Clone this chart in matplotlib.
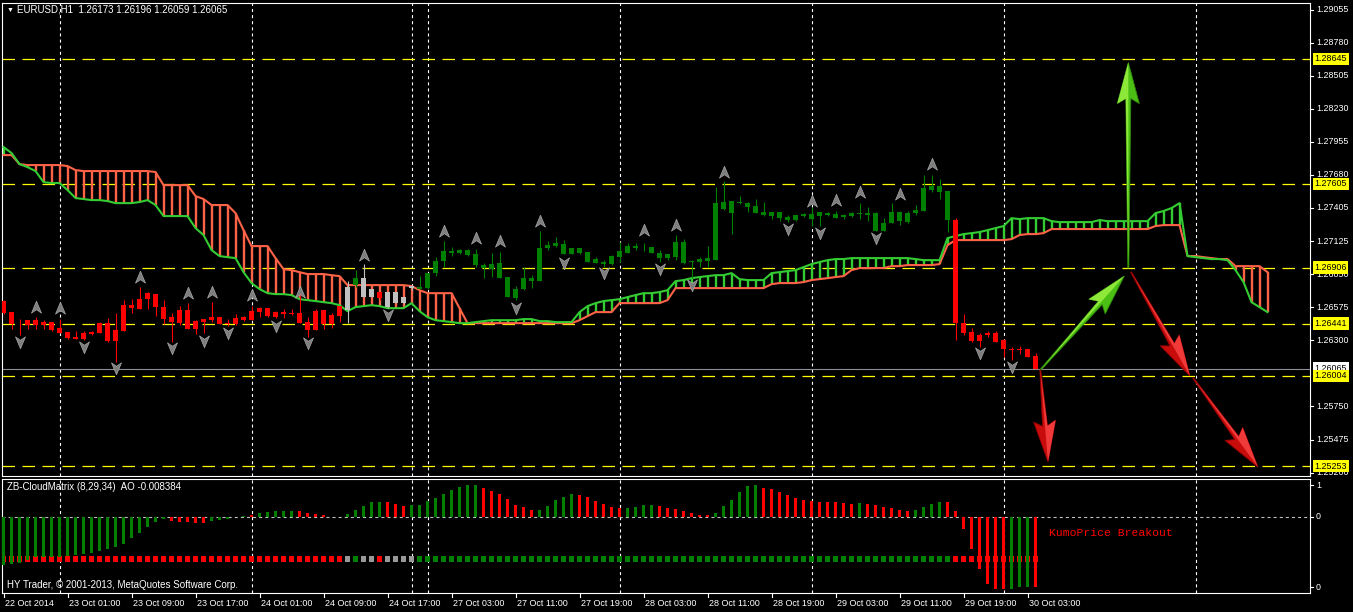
import matplotlib
matplotlib.use("Agg")
import matplotlib.pyplot as plt
import matplotlib.transforms as mtransforms
from matplotlib.path import Path
from matplotlib.patches import Polygon
from matplotlib.lines import Line2D
import numpy as np

plt.rcParams['font.family'] = ['Liberation Sans', 'DejaVu Sans']
plt.rcParams['lines.scale_dashes'] = False

# ---------------- data ----------------
symbol_title = "EURUSD,H1  1.26173 1.26196 1.26059 1.26065"
osc_title = "ZB-CloudMatrix (8,29,34)  AO -0.008384"
copyright_text = "HY Trader, \u00a9 2001-2013, MetaQuotes Software Corp."
signal_text = "KumoPrice Breakout"

time_labels = ["22 Oct 2014", "23 Oct 01:00", "23 Oct 09:00", "23 Oct 17:00",
               "24 Oct 01:00", "24 Oct 09:00", "24 Oct 17:00", "27 Oct 03:00",
               "27 Oct 11:00", "27 Oct 19:00", "28 Oct 03:00", "28 Oct 11:00",
               "28 Oct 19:00", "29 Oct 03:00", "29 Oct 11:00", "29 Oct 19:00",
               "30 Oct 03:00"]
label_every = 8

highs = [1.26636, 1.26536, 1.26475, 1.26467, 1.26492, 1.26469, 1.26453, 1.26475, 1.26369, 1.26375,
         1.26375, 1.26378, 1.26453, 1.26486, 1.26530, 1.26636, 1.26647, 1.26747, 1.26703, 1.26689,
         1.26636, 1.26525, 1.26586, 1.26609, 1.26469, 1.26478, 1.26619, 1.26494, 1.26475, 1.26519,
         1.26503, 1.26589, 1.26580, 1.26572, 1.26544, 1.26561, 1.26559, 1.26705, 1.26497, 1.26559,
         1.26553, 1.26525, 1.26589, 1.26792, 1.26886, 1.26936, 1.26728, 1.26705, 1.26705, 1.26705,
         1.26664, 1.26753, 1.26836, 1.26864, 1.26997, 1.27130, 1.27075, 1.27064, 1.27064, 1.27064,
         1.26947, 1.27025, 1.27039, 1.26830, 1.26755, 1.26909, 1.26844, 1.27214, 1.27128, 1.27164,
         1.27137, 1.27072, 1.27072, 1.27036, 1.26992, 1.26969, 1.27011, 1.27120, 1.27109, 1.27109,
         1.27114, 1.27075, 1.27053, 1.27020, 1.27178, 1.27142, 1.26970, 1.26997, 1.27086, 1.27575,
         1.27630, 1.27461, 1.27503, 1.27455, 1.27475, 1.27455, 1.27372, 1.27372, 1.27344, 1.27342,
         1.27364, 1.27414, 1.27372, 1.27372, 1.27380, 1.27353, 1.27372, 1.27447, 1.27414, 1.27372,
         1.27317, 1.27447, 1.27380, 1.27380, 1.27428, 1.27678, 1.27678, 1.27642, 1.27544, 1.27317,
         1.26519, 1.26400, 1.26364, 1.26375, 1.26378, 1.26309, 1.26247, 1.26253, 1.26233, 1.26196]
opens = [1.26628, 1.26536, 1.26447, 1.26467, 1.26469, 1.26453, 1.26453, 1.26403, 1.26369, 1.26330,
         1.26359, 1.26372, 1.26447, 1.26442, 1.26386, 1.26594, 1.26594, 1.26642, 1.26697, 1.26689,
         1.26580, 1.26497, 1.26553, 1.26553, 1.26461, 1.26478, 1.26494, 1.26494, 1.26445, 1.26486,
         1.26497, 1.26544, 1.26572, 1.26572, 1.26536, 1.26536, 1.26528, 1.26530, 1.26453, 1.26544,
         1.26553, 1.26513, 1.26589, 1.26744, 1.26817, 1.26822, 1.26728, 1.26705, 1.26705, 1.26705,
         1.26664, 1.26753, 1.26747, 1.26864, 1.26964, 1.27044, 1.27044, 1.27050, 1.27050, 1.27017,
         1.26928, 1.26936, 1.26947, 1.26830, 1.26728, 1.26822, 1.26822, 1.27067, 1.27094, 1.27114,
         1.27103, 1.27072, 1.27072, 1.27036, 1.26975, 1.26955, 1.27003, 1.27047, 1.27086, 1.27086,
         1.27072, 1.27075, 1.27030, 1.27017, 1.27122, 1.27122, 1.26961, 1.26975, 1.26984, 1.27447,
         1.27455, 1.27461, 1.27455, 1.27442, 1.27419, 1.27372, 1.27372, 1.27372, 1.27330, 1.27342,
         1.27355, 1.27355, 1.27369, 1.27364, 1.27355, 1.27342, 1.27364, 1.27359, 1.27364, 1.27364,
         1.27280, 1.27372, 1.27372, 1.27359, 1.27386, 1.27567, 1.27586, 1.27586, 1.27544, 1.27303,
         1.26442, 1.26372, 1.26345, 1.26364, 1.26364, 1.26303, 1.26225, 1.26228, 1.26228, 1.26173]
closes = [1.26528, 1.26436, 1.26442, 1.26425, 1.26425, 1.26430, 1.26386, 1.26364, 1.26319, 1.26314,
          1.26311, 1.26353, 1.26364, 1.26294, 1.26294, 1.26380, 1.26572, 1.26561, 1.26642, 1.26580,
          1.26480, 1.26453, 1.26442, 1.26397, 1.26394, 1.26455, 1.26469, 1.26439, 1.26439, 1.26436,
          1.26469, 1.26472, 1.26536, 1.26505, 1.26497, 1.26519, 1.26519, 1.26447, 1.26389, 1.26386,
          1.26439, 1.26439, 1.26505, 1.26553, 1.26761, 1.26664, 1.26664, 1.26650, 1.26580, 1.26614,
          1.26614, 1.26734, 1.26730, 1.26736, 1.26859, 1.26964, 1.27030, 1.27030, 1.27011, 1.26925,
          1.26900, 1.26892, 1.26817, 1.26664, 1.26655, 1.26725, 1.26797, 1.26797, 1.27067, 1.27086,
          1.27017, 1.27020, 1.27030, 1.26955, 1.26947, 1.26933, 1.26933, 1.26997, 1.27030, 1.27072,
          1.27067, 1.27025, 1.26984, 1.26984, 1.26997, 1.26942, 1.26955, 1.26955, 1.26961, 1.26970,
          1.27392, 1.27364, 1.27442, 1.27414, 1.27364, 1.27342, 1.27336, 1.27317, 1.27303, 1.27303,
          1.27339, 1.27309, 1.27336, 1.27344, 1.27322, 1.27325, 1.27336, 1.27353, 1.27344, 1.27214,
          1.27214, 1.27275, 1.27294, 1.27289, 1.27359, 1.27380, 1.27553, 1.27539, 1.27303, 1.26442,
          1.26364, 1.26294, 1.26294, 1.26342, 1.26289, 1.26225, 1.26219, 1.26220, 1.26164, 1.26065]
lows = [1.26519, 1.26394, 1.26344, 1.26397, 1.26397, 1.26397, 1.26380, 1.26364, 1.26314, 1.26309,
        1.26303, 1.26344, 1.26359, 1.26286, 1.26119, 1.26380, 1.26525, 1.26561, 1.26564, 1.26503,
        1.26436, 1.26286, 1.26425, 1.26397, 1.26353, 1.26359, 1.26453, 1.26436, 1.26420, 1.26425,
        1.26464, 1.26467, 1.26492, 1.26497, 1.26486, 1.26489, 1.26514, 1.26447, 1.26330, 1.26386,
        1.26392, 1.26403, 1.26455, 1.26447, 1.26747, 1.26664, 1.26659, 1.26636, 1.26567, 1.26611,
        1.26603, 1.26720, 1.26730, 1.26730, 1.26836, 1.26914, 1.27005, 1.27017, 1.27003, 1.26914,
        1.26822, 1.26830, 1.26817, 1.26659, 1.26636, 1.26719, 1.26734, 1.26797, 1.27053, 1.27075,
        1.27017, 1.27017, 1.27020, 1.26955, 1.26942, 1.26909, 1.26928, 1.26955, 1.27025, 1.27053,
        1.27047, 1.27025, 1.26955, 1.26970, 1.26970, 1.26936, 1.26817, 1.26914, 1.26914, 1.26970,
        1.27386, 1.27186, 1.27434, 1.27372, 1.27359, 1.27336, 1.27309, 1.27297, 1.27289, 1.27297,
        1.27330, 1.27253, 1.27253, 1.27336, 1.27317, 1.27314, 1.27330, 1.27309, 1.27297, 1.27214,
        1.27211, 1.27275, 1.27261, 1.27275, 1.27344, 1.27380, 1.27539, 1.27475, 1.27205, 1.26303,
        1.26345, 1.26289, 1.26247, 1.26325, 1.26286, 1.26164, 1.26136, 1.26186, 1.26159, 1.26059]
# candle / strip state: r = below cloud, g = above cloud, s = inside cloud
state_runs = [("r", 43), ("s", 1), ("g", 1), ("s", 2), ("r", 1), ("s", 4), ("g", 67), ("r", 11)]

# Ichimoku cloud (shifted 29 bars forward)
span_a = [1.27911, 1.27861, 1.27769, 1.27744, 1.27711, 1.27619, 1.27611, 1.27611, 1.27553, 1.27486,
          1.27478, 1.27469, 1.27469, 1.27461, 1.27444, 1.27444, 1.27444, 1.27453, 1.27469, 1.27428,
          1.27336, 1.27336, 1.27336, 1.27336, 1.27236, 1.27178, 1.27053, 1.27003, 1.26994, 1.26986,
          1.26869, 1.26778, 1.26728, 1.26694, 1.26686, 1.26686, 1.26678, 1.26644, 1.26636, 1.26628,
          1.26619, 1.26611, 1.26594, 1.26544, 1.26578, 1.26586, 1.26594, 1.26586, 1.26569, 1.26569,
          1.26569, 1.26611, 1.26544, 1.26494, 1.26469, 1.26461, 1.26453, 1.26444, 1.26444, 1.26453,
          1.26461, 1.26469, 1.26469, 1.26469, 1.26469, 1.26478, 1.26478, 1.26461, 1.26461, 1.26453,
          1.26453, 1.26453, 1.26536, 1.26586, 1.26611, 1.26628, 1.26636, 1.26644, 1.26661, 1.26678,
          1.26694, 1.26694, 1.26703, 1.26719, 1.26794, 1.26803, 1.26819, 1.26828, 1.26836, 1.26844,
          1.26844, 1.26861, 1.26811, 1.26803, 1.26803, 1.26803, 1.26861, 1.26869, 1.26878, 1.26886,
          1.26911, 1.26936, 1.26953, 1.26969, 1.26978, 1.26978, 1.26986, 1.26986, 1.26986, 1.26986,
          1.26986, 1.26986, 1.26986, 1.26986, 1.26978, 1.26969, 1.26969, 1.26969, 1.27153, 1.27169,
          1.27186, 1.27194, 1.27203, 1.27219, 1.27236, 1.27253, 1.27319, 1.27311, 1.27319, 1.27319,
          1.27319, 1.27294, 1.27286, 1.27286, 1.27286, 1.27286, 1.27286, 1.27303, 1.27294, 1.27294,
          1.27294, 1.27294, 1.27294, 1.27294, 1.27361, 1.27378, 1.27403, 1.27444, 1.27003, 1.26994,
          1.26986, 1.26978, 1.26978, 1.26969, 1.26886, 1.26786, 1.26619, 1.26578, 1.26536]
span_b = [1.27844, 1.27844, 1.27769, 1.27761, 1.27761, 1.27761, 1.27761, 1.27761, 1.27753, 1.27719,
          1.27711, 1.27711, 1.27711, 1.27711, 1.27711, 1.27711, 1.27711, 1.27711, 1.27711, 1.27703,
          1.27594, 1.27594, 1.27594, 1.27594, 1.27503, 1.27478, 1.27428, 1.27428, 1.27428, 1.27361,
          1.27219, 1.27086, 1.27086, 1.27086, 1.26986, 1.26894, 1.26886, 1.26869, 1.26853, 1.26853,
          1.26853, 1.26844, 1.26836, 1.26761, 1.26761, 1.26761, 1.26761, 1.26761, 1.26761, 1.26761,
          1.26761, 1.26753, 1.26719, 1.26694, 1.26694, 1.26694, 1.26694, 1.26569, 1.26444, 1.26444,
          1.26444, 1.26444, 1.26444, 1.26444, 1.26444, 1.26444, 1.26444, 1.26444, 1.26444, 1.26444,
          1.26444, 1.26444, 1.26469, 1.26503, 1.26536, 1.26536, 1.26536, 1.26611, 1.26611, 1.26611,
          1.26611, 1.26611, 1.26611, 1.26636, 1.26736, 1.26736, 1.26736, 1.26736, 1.26736, 1.26736,
          1.26736, 1.26736, 1.26736, 1.26736, 1.26736, 1.26736, 1.26769, 1.26778, 1.26778, 1.26778,
          1.26786, 1.26803, 1.26811, 1.26819, 1.26828, 1.26836, 1.26886, 1.26903, 1.26903, 1.26903,
          1.26903, 1.26919, 1.26919, 1.26928, 1.26928, 1.26928, 1.26928, 1.26936, 1.27094, 1.27136,
          1.27136, 1.27136, 1.27136, 1.27136, 1.27136, 1.27136, 1.27144, 1.27178, 1.27186, 1.27186,
          1.27194, 1.27228, 1.27228, 1.27228, 1.27228, 1.27228, 1.27228, 1.27228, 1.27228, 1.27228,
          1.27228, 1.27228, 1.27228, 1.27228, 1.27253, 1.27261, 1.27261, 1.27261, 1.27003, 1.27003,
          1.26994, 1.26986, 1.26978, 1.26978, 1.26919, 1.26919, 1.26919, 1.26919, 1.26869]

# oscillator panel (histogram in indicator units)
ao_values = [-48.3, -47.3, -46.0, -43.3, -40.7, -40.7, -40.7, -40.7, -39.3, -38.3,
             -37.3, -36.7, -34.7, -32.7, -30.7, -27.3, -21.0, -16.0, -10.7, -5.0,
             -2.7, -4.3, -5.0, -5.0, -6.0, -6.7, -4.0, -3.0, -2.0, -0.7,
             1.0, 1.3, 3.3, 4.7, 6.0, 6.0, 5.7, 5.7, 4.0, 2.7,
             2.0, -0.7, -0.7, 3.0, 6.7, 11.0, 14.7, 14.7, 14.7, 13.0,
             11.0, 12.0, 12.0, 15.3, 18.3, 22.5, 26.3, 29.3, 31.3, 31.3,
             28.3, 25.3, 22.3, 17.3, 11.3, 9.3, 6.3, 6.3, 10.3, 16.3,
             19.3, 22.3, 21.3, 19.3, 15.3, 12.3, 9.3, 8.3, 8.3, 9.3,
             11.3, 11.3, 10.3, 8.3, 7.3, 5.3, 3.3, 1.3, 1.3, 3.3,
             10.3, 16.3, 24.3, 30.3, 31.3, 28.3, 27.3, 24.3, 21.3, 18.3,
             16.3, 15.3, 14.3, 14.3, 14.3, 13.3, 12.3, 13.3, 12.3, 11.3,
             9.3, 8.3, 6.5, 5.5, 6.5, 9.7, 13.0, 14.7, 14.7, 5.7,
             -12.3, -32.3, -52.3, -67.0, -72.3, -72.3, -72.3, -70.0, -70.0, -70.0]
ao_color_runs = [("g", 21), ("r", 5), ("g", 5), ("r", 1), ("g", 5), ("r", 6), ("g", 5), ("r", 3),
                 ("g", 9), ("r", 7), ("g", 5), ("r", 6), ("g", 4), ("r", 7), ("g", 6), ("r", 12),
                 ("g", 1), ("r", 6), ("g", 4), ("r", 8), ("g", 3), ("r", 1)]
strip_level = -42.5
osc_ticks = [(31.5, "1"), (0.0, "0"), (-70.5, "0")]

# fractal markers
up_fractal_bars = [4, 7, 17, 23, 26, 31, 37, 45, 55, 59, 62, 67, 80, 84, 90, 101, 104, 107, 112, 116]
up_fractal_prices = [1.26578, 1.26569, 1.26828, 1.26694, 1.26703, 1.26678, 1.26703, 1.27011, 1.27211,
                     1.27153, 1.27128, 1.27294, 1.27219, 1.27261, 1.27703, 1.27461, 1.27469, 1.27536,
                     1.27519, 1.27769]
dn_fractal_bars = [2, 10, 14, 21, 25, 28, 34, 38, 48, 64, 70, 75, 82, 86, 98, 102, 109, 122, 126]
dn_fractal_prices = [1.26286, 1.26244, 1.26069, 1.26236, 1.26294, 1.26361, 1.26419, 1.26278, 1.26511,
                     1.26569, 1.26944, 1.26861, 1.26894, 1.26761, 1.27228, 1.27194, 1.27153, 1.26194,
                     1.26078]

level_lines = [1.28645, 1.27605, 1.26906, 1.26441, 1.26004, 1.25253]
bid_price = 1.26065
price_ticks = ["1.29055", "1.28780", "1.28505", "1.28230", "1.27955", "1.27680", "1.27405",
               "1.27125", "1.26850", "1.26575", "1.26300", "1.25750", "1.25475", "1.25200"]
grid_bars = [7, 31, 51, 53, 77, 101, 125, 149]

# drawn arrows: (start bar, start price) -> (end bar, end price)
green_arrows = [((140.6, 1.26904), (140.6, 1.28615)),
                ((129.6, 1.26054), (140.1, 1.26837))]
red_arrows = [((129.6, 1.26054), (130.56, 1.25288)),
              ((140.94, 1.26870), (148.3, 1.26004)),
              ((148.7, 1.25987), (156.8, 1.25245))]

# ---------------- figure ----------------
W, H = 1353, 612
fig = plt.figure(figsize=(W / 100, H / 100), dpi=100, facecolor='black')


def px_rect(x0, y0, x1, y1):
    return [x0 / W, 1 - y1 / H, (x1 - x0) / W, (y1 - y0) / H]


ax = fig.add_axes(px_rect(2, 3, 1310, 476))
ax2 = fig.add_axes(px_rect(2, 479, 1310, 593))
for a in (ax, ax2):
    a.set_facecolor('black')
    for s in a.spines.values():
        s.set_color('white')
        s.set_linewidth(0.8)
    a.set_xticks([])
    a.set_yticks([])
    a.set_xlim(-0.19, 163.31)
ax.set_ylim(1.25171, 1.29111)
ax2.set_ylim(-76.5, 37.5)

col = {'r': '#FF0000', 'g': '#008000', 's': '#C0C0C0'}
state = "".join(c * n for c, n in state_runs)
ao_cols = "".join(c * n for c, n in ao_color_runs)

# grid
for b in grid_bars:
    for a in (ax, ax2):
        a.axvline(b, color='white', lw=0.8, ls=(0, (2.2, 2.2)), zorder=0.5)

# horizontal levels
for lv in level_lines:
    ax.axhline(lv, color='#FFFF00', lw=0.9, ls=(0, (9.0, 5.4)), zorder=1)
ax.axhline(bid_price, color='#8c8c99', lw=0.8, zorder=1)

# cloud
xc = np.arange(len(span_a))
sa = np.array(span_a)
sb = np.array(span_b)
hatch_cols = np.where(sa >= sb, '#33CC33', '#FF6347')
ax.vlines(xc, np.minimum(sa, sb), np.maximum(sa, sb), colors=hatch_cols, lw=1.7, zorder=2)
ax.plot(xc, sb, color='#FF6347', lw=1.5, zorder=3)
ax.plot(xc, sa, color='#33CC33', lw=1.5, zorder=3)

# candles
x = np.arange(len(highs))
ccols = [col[c] for c in state]
o = np.array(opens)
c = np.array(closes)
ax.vlines(x, lows, highs, colors=ccols, lw=0.8, zorder=4)
blo = np.minimum(o, c)
bh = np.maximum(np.abs(o - c), 0.00007)
ax.bar(x, bh, bottom=blo, width=0.62, color=ccols, lw=0, zorder=4)

# fractals
up_m = Path([(0, 1), (0.8, -0.9), (0, -0.35), (-0.8, -0.9), (0, 1)],
            [Path.MOVETO, Path.LINETO, Path.LINETO, Path.LINETO, Path.CLOSEPOLY])
dn_m = Path([(0, -1), (0.8, 0.9), (0, 0.35), (-0.8, 0.9), (0, -1)],
            [Path.MOVETO, Path.LINETO, Path.LINETO, Path.LINETO, Path.CLOSEPOLY])
ax.plot(up_fractal_bars, up_fractal_prices, ls='none', marker=up_m, ms=9,
        mfc='#7d7d7d', mec='#a8a8a8', mew=0.5, zorder=5)
ax.plot(dn_fractal_bars, dn_fractal_prices, ls='none', marker=dn_m, ms=9,
        mfc='#7d7d7d', mec='#a8a8a8', mew=0.5, zorder=5)


# drawn arrows
def tapered_arrow(a, start, end, face, light, edge, head_len=36, head_w=22, shaft_w=5, tail_w=1):
    p0 = a.transData.transform(start)
    p1 = a.transData.transform(end)
    d = p1 - p0
    u = d / np.hypot(*d)
    n = np.array([-u[1], u[0]])
    hb = p1 - u * head_len
    wing = p1 - u * (head_len + 5)
    pts = np.array([p0 + n * tail_w / 2, hb + n * shaft_w / 2, wing + n * head_w / 2, p1,
                    wing - n * head_w / 2, hb - n * shaft_w / 2, p0 - n * tail_w / 2])
    inv = a.transData.inverted()
    a.add_patch(Polygon(inv.transform(pts), closed=True, fc=face, ec=edge, lw=0.6, zorder=7))
    half = np.array([p0, hb + n * shaft_w / 2, wing + n * head_w / 2, p1, hb])
    a.add_patch(Polygon(inv.transform(half), closed=True, fc=light, ec='none', zorder=8))


for s, e in green_arrows:
    tapered_arrow(ax, s, e, '#4cbf14', '#8ee83a', '#2f8a0a')
for s, e in red_arrows:
    tapered_arrow(ax, s, e, '#c80c0c', '#f03a3a', '#8a0000')

# right price scale
tr = mtransforms.blended_transform_factory(ax.transAxes, ax.transData)
for s in price_ticks:
    v = float(s)
    ax.text(1.0046, v, s, transform=tr, color='white', fontsize=6.4, va='center', ha='left',
            clip_on=False, zorder=9)
    ax.add_line(Line2D([1.0, 1.0023], [v, v], transform=tr, color='white', lw=0.8, clip_on=False))
ax.text(1.0033, bid_price, f"{bid_price:.5f}", transform=tr, color='black', fontsize=6.4,
        va='center', ha='left', clip_on=False, zorder=10,
        bbox=dict(boxstyle='square,pad=0.2', fc='white', ec='none'))
for lv in level_lines:
    ax.text(1.0033, lv, f"{lv:.5f}", transform=tr, color='black', fontsize=6.4,
            va='center', ha='left', clip_on=False, zorder=11,
            bbox=dict(boxstyle='square,pad=0.2', fc='#FFFF00', ec='none'))

# oscillator panel
ax2.axhline(0, color='#c0c0c0', lw=0.8, ls=(0, (2.2, 2.2)), zorder=1)
ax2.scatter(x, [strip_level] * len(x), marker='s', s=17, c=ccols if False else
            [{'r': '#FF0000', 'g': '#008000', 's': '#999999'}[k] for k in state],
            linewidths=0, zorder=2)
ax2.bar(x, ao_values, width=0.42, color=[col[k] for k in ao_cols], lw=0, zorder=3)
tr2 = mtransforms.blended_transform_factory(ax2.transAxes, ax2.transData)
for v, s in osc_ticks:
    ax2.text(1.0046, v, s, transform=tr2, color='white', fontsize=6.4, va='center', ha='left',
             clip_on=False)
    ax2.add_line(Line2D([1.0, 1.0023], [v, v], transform=tr2, color='white', lw=0.8, clip_on=False))
ax2.text(0.0036, 0.93, osc_title, transform=ax2.transAxes, color='white', fontsize=7, va='center')
ax2.text(0.0036, 0.07, copyright_text, transform=ax2.transAxes, color='white', fontsize=7,
         va='center')
ax2.text(130.7, -16.5, signal_text, color='#FF0000', fontsize=8.2, va='center', ha='left',
         family=['Liberation Mono', 'DejaVu Sans Mono'], zorder=6)

# time axis
trx = mtransforms.blended_transform_factory(ax2.transData, ax2.transAxes)
for k, lab in enumerate(time_labels):
    b = k * label_every
    ax2.annotate(lab, xy=(b, 0), xycoords=trx, xytext=(1.2, -7.8), textcoords='offset points',
                 color='white', fontsize=6.5, ha='left', va='center', annotation_clip=False)
    ax2.add_line(Line2D([b, b], [0, -0.035], transform=trx, color='white', lw=0.8, clip_on=False))

# title
fig.text(7 / W, 1 - 10 / H, "\u25bc", color='white', fontsize=5, va='center', ha='left')
fig.text(17 / W, 1 - 10 / H, symbol_title, color='white', fontsize=7, va='center', ha='left')

fig.savefig('out.png', dpi=100, facecolor='black')
